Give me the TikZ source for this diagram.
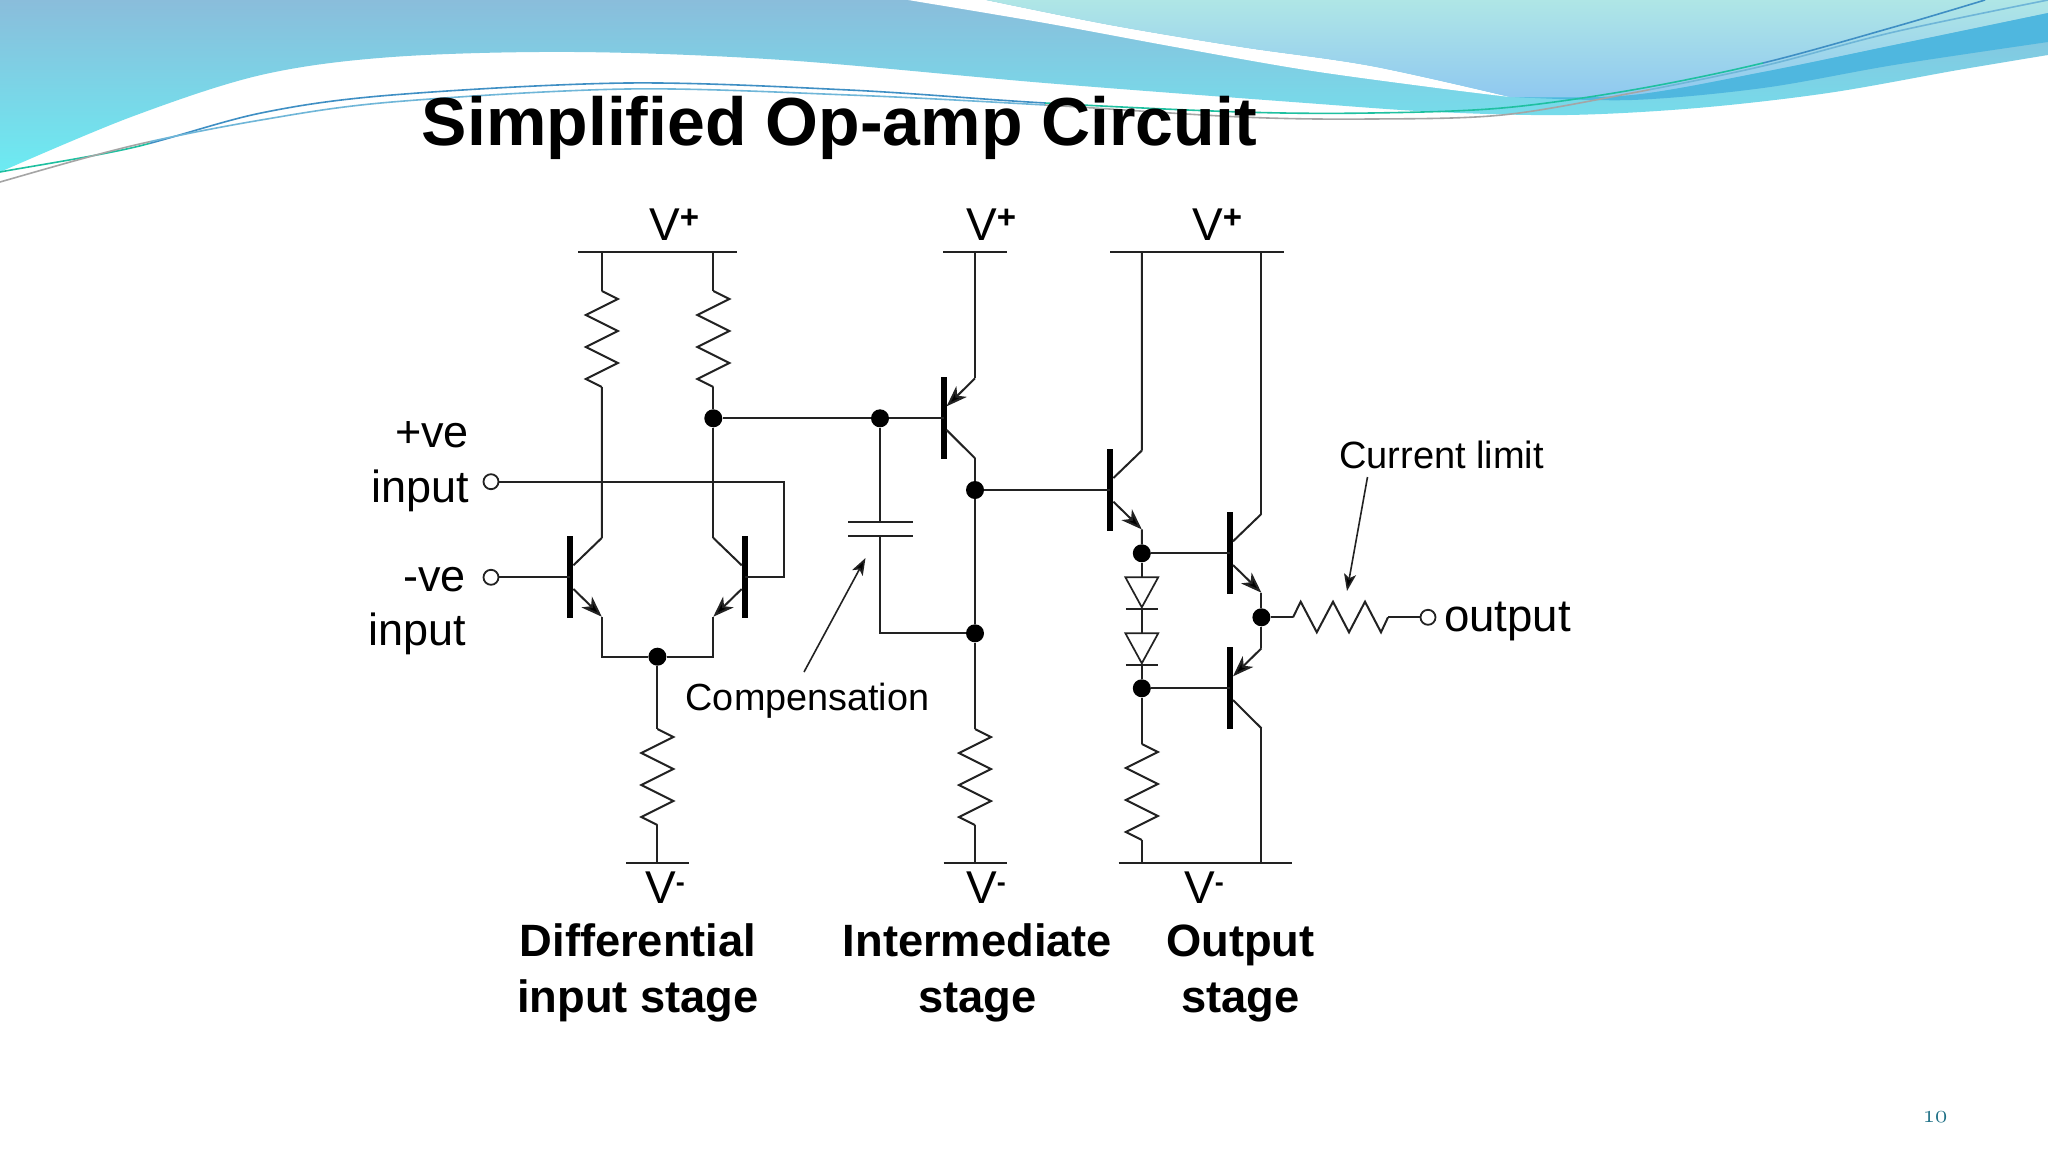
\documentclass[tikz,border=0pt]{standalone}
\usepackage{fontspec}
\setmainfont{Liberation Sans}
\usetikzlibrary{arrows.meta,calc}
\definecolor{wire}{HTML}{222222}
\definecolor{pagenum}{HTML}{1D6F85}
\definecolor{waveTop}{HTML}{8ABDDB}
\definecolor{waveMid}{HTML}{7DD2E6}
\definecolor{waveLow}{HTML}{6CEBF2}
\definecolor{lightTop}{HTML}{AFE6E6}
\definecolor{lightLow}{HTML}{8FC8F0}
\definecolor{bandBlue}{HTML}{4FB7DF}
\definecolor{lineBlue}{HTML}{3F8FC4}
\definecolor{lineTeal}{HTML}{1FC0A0}
\definecolor{lineGrey}{HTML}{A5A5A5}
\definecolor{lineSky}{HTML}{6FB6D8}
\tikzset{
  wire/.style={draw=wire,line width=2pt,line join=miter},
  thin wire/.style={draw=wire,line width=1.7pt},
  bar/.style={draw=black,line width=6pt},
  dot/.style={circle,fill=black,inner sep=0pt,minimum size=18pt},
  port/.style={circle,draw=wire,fill=white,line width=1.8pt,inner sep=0pt,minimum size=15pt},
  lab/.style={inner sep=0pt,anchor=base west,text=black},
  emit/.style={wire,-{Stealth[length=21pt,width=15pt,inset=6pt,fill=black]}},
  note arrow/.style={draw=wire,line width=1.6pt,-{Stealth[length=17pt,width=12pt,inset=4pt,fill=black]}},
  swoosh/.style={line width=1.6pt},
  pics/npn/.style={code={
    \coordinate (-b) at (0,0);
    \coordinate (-c) at (31.4,-39.4);
    \coordinate (-e) at (31.4,39.4);
    \draw[bar] (0,-41) -- (0,41);
    \draw[wire] (-c) -- (3,-12);
    \draw[emit] (3,11.7) -- (-e);
  }},
  pics/pnp/.style={code={
    \coordinate (-b) at (0,0);
    \coordinate (-e) at (31.4,-40);
    \coordinate (-c) at (31.4,40);
    \draw[bar] (0,-41) -- (0,41);
    \draw[wire] (3,11.7) -- (-c);
    \draw[emit] (-e) -- (3,-12);
  }},
  pics/vres/.style={code={
    \coordinate (-a) at (0,0);
    \coordinate (-b) at (0,96);
    \draw[wire] (-a) -- (16,8) -- (-16,24) -- (16,40) -- (-16,56) -- (16,72) -- (-16,88) -- (-b);
  }},
  pics/hres/.style={code={
    \coordinate (-a) at (0,0);
    \coordinate (-b) at (95,0);
    \draw[wire] (-a) -- (7.7,-15.6) -- (23.8,15) -- (40,-15.6) -- (56,15) -- (72,-15.6) -- (88,15) -- (-b);
  }},
  pics/diode/.style={code={
    \coordinate (-a) at (0,0);
    \coordinate (-k) at (0,31.7);
    \draw[thin wire] (-16.4,0) -- (16.4,0) -- (0,30) -- cycle;
    \draw[thin wire] (-16,31.7) -- (16,31.7);
  }},
}
\newcommand{\plusmark}{\raisebox{12pt}{\fontsize{33}{33}\selectfont\bfseries +}}
\newcommand{\minusmark}{\raisebox{12pt}{\fontsize{27}{27}\selectfont\bfseries -}}
\newcommand{\fs}[1]{\fontsize{#1}{#1}\selectfont}
% the two thin header swooshes, each coloured piecewise along x
\newcommand{\swooshA}{plot[smooth,tension=.55] coordinates {(-10,175) (0,172) (131,148) (261,113) (392,95) (627,83) (849,90) (1045,103) (1241,112) (1371,113) (1502,108) (1632,90) (1763,63) (1894,27) (1985,0)}}
\newcommand{\swooshB}{plot[smooth,tension=.55] coordinates {(-10,186) (0,182) (131,146) (261,120) (392,102) (627,89) (849,95) (1045,105) (1241,117) (1371,119) (1502,115) (1632,93) (1763,66) (1894,32) (2048,0)}}
\newcommand{\piece}[3]{\begin{scope}\clip (#1,0) rectangle (#2,200);\draw[swoosh,#3] }
\begin{document}
\begin{tikzpicture}[x=1pt,y=-1pt]
\useasboundingbox (0,0) rectangle (2048,1152);
\fill[white] (0,0) rectangle (2048,1152);

% --- slide header waves ---
\shade[top color=waveTop,middle color=waveMid,bottom color=waveLow]
  plot[smooth,tension=.55] coordinates {(0,172) (131,117) (261,75) (392,57) (575,52) (783,60) (1045,83) (1306,103) (1437,112) (1567,115) (1697,108) (1828,93) (1958,70) (2048,55)}
  -- (2048,0) -- (0,0) -- cycle;
\fill[white]
  plot[smooth,tension=.55] coordinates {(908,0) (1045,23) (1175,47) (1306,70) (1437,88) (1510,97)}
  -- plot[smooth,tension=.55] coordinates {(1510,97) (1371,66) (1241,47) (1110,25) (986,0)}
  -- cycle;
\shade[top color=lightTop,bottom color=lightLow]
  plot[smooth,tension=.55] coordinates {(986,0) (1110,25) (1241,47) (1371,66) (1510,97)}
  -- plot[smooth,tension=.55] coordinates {(1510,97) (1632,95) (1763,72) (1894,45) (2048,13)}
  -- (2048,0) -- cycle;
\fill[bandBlue]
  plot[smooth,tension=.55] coordinates {(1515,97) (1632,95) (1763,72) (1894,45) (2048,13)}
  -- plot[smooth,tension=.55] coordinates {(2048,42) (1894,65) (1763,88) (1632,100) (1515,97)} -- cycle;

% thin swooshes
\piece{0}{150}{lineTeal} \swooshA; \end{scope}
\piece{150}{1045}{lineBlue} \swooshA; \end{scope}
\piece{1045}{1763}{lineTeal} \swooshA; \end{scope}
\piece{1763}{2048}{lineBlue} \swooshA; \end{scope}
\piece{0}{150}{lineGrey} \swooshB; \end{scope}
\piece{150}{1045}{lineSky} \swooshB; \end{scope}
\piece{1045}{1650}{lineGrey} \swooshB; \end{scope}
\piece{1650}{2048}{lineSky} \swooshB; \end{scope}

% title
\node[lab] (title) at (421.7,145) {\fs{68}\bfseries Simplified Op-amp Circuit};

% --- supply rails ---
\coordinate (railA1) at (578,251.8);   \coordinate (railA2) at (737,251.8);
\coordinate (railB1) at (943.3,251.8); \coordinate (railB2) at (1007,251.8);
\coordinate (railC1) at (1110,251.8);  \coordinate (railC2) at (1284,251.8);
\coordinate (railD1) at (626,863.3);   \coordinate (railD2) at (689,863.3);
\coordinate (railE1) at (943.5,863.3); \coordinate (railE2) at (1006.7,863.3);
\coordinate (railF1) at (1118.6,863.3);\coordinate (railF2) at (1291.7,863.3);
\draw[wire] (railA1) -- (railA2);
\draw[wire] (railB1) -- (railB2);
\draw[wire] (railC1) -- (railC2);
\draw[wire] (railD1) -- (railD2);
\draw[wire] (railE1) -- (railE2);
\draw[wire] (railF1) -- (railF2);

% taps on rails
\coordinate (tapA1) at (601.8,251.8);
\coordinate (tapA2) at (713.3,251.8);
\coordinate (tapB) at (975,251.8);
\coordinate (tapC1) at (1141.8,251.8);
\coordinate (tapC2) at (1261.4,251.8);
\coordinate (tapD) at (657.4,863.3);
\coordinate (tapE) at (975,863.3);
\coordinate (tapF1) at (1141.8,863.3);
\coordinate (tapF2) at (1261.4,863.3);

% --- components ---
\pic (r1) at (601.8,291) {vres};
\pic (r2) at (713.3,291) {vres};
\pic (r3) at (657.4,729) {vres};
\pic (r4) at (975,729) {vres};
\pic (r5) at (1141.8,744) {vres};
\pic (r6) at (1293,617.3) {hres};

\pic (t1) at (570.4,577.3) {npn};
\pic[xscale=-1] (t2) at (744.7,577.3) {npn};
\pic (t3) at (943.6,418.3) {pnp};
\pic (t4) at (1110.4,490) {npn};
\pic (t5) at (1230,553.3) {npn};
\pic (t6) at (1230,688.3) {pnp};

\pic (d1) at (1141.8,577.3) {diode};
\pic (d2) at (1141.8,633.3) {diode};

\node[dot] (n1) at (713.3,418.3) {};
\node[dot] (n2) at (880,418.3) {};
\node[dot] (n3) at (657.4,656.7) {};
\node[dot] (n4) at (975,490) {};
\node[dot] (n5) at (975,633.3) {};
\node[dot] (n6) at (1141.8,553.3) {};
\node[dot] (n7) at (1141.8,688.3) {};
\node[dot] (n8) at (1261.4,617.3) {};

\node[port] (inP) at (491,481.7) {};
\node[port] (inN) at (491,577.3) {};
\node[port] (out) at (1428,617.3) {};

% capacitor
\coordinate (capT) at (880,522.3);
\coordinate (capB) at (880,536.3);
\coordinate (capTl) at (848,522.3); \coordinate (capTr) at (913,522.3);
\coordinate (capBl) at (848,536.3); \coordinate (capBr) at (913,536.3);
\draw[thin wire] (capTl) -- (capTr);
\draw[thin wire] (capBl) -- (capBr);

% --- connectors ---
\draw[wire] (tapA1) -- (r1-a);
\draw[wire] (r1-b) -- (t1-c);
\draw[wire] (tapA2) -- (r2-a);
\draw[wire] (r2-b) -- (n1) -- (t2-c);
\draw[wire] (t1-e) |- (n3);
\draw[wire] (t2-e) |- (n3);
\draw[wire] (n3) -- (r3-a);
\draw[wire] (r3-b) -- (tapD);
\draw[wire] (n1) -- (n2) -- (t3-b);
\draw[wire] (n2) -- (capT);
\draw[wire] (capB) |- (n5);
\draw[wire] (inN) -- (t1-b);
\coordinate (cornerP) at (784,481.7);
\coordinate (cornerQ) at (784,577.3);
\draw[wire] (inP) -- (cornerP) -- (cornerQ) -- (t2-b);
\draw[wire] (tapB) -- (t3-e);
\draw[wire] (t3-c) -- (n4) -- (n5) -- (r4-a);
\draw[wire] (r4-b) -- (tapE);
\draw[wire] (n4) -- (t4-b);
\draw[wire] (tapC1) -- (t4-c);
\draw[wire] (t4-e) -- (n6);
\draw[wire] (n6) -- (d1-a);
\draw[wire] (d1-k) -- (d2-a);
\draw[wire] (d2-k) -- (n7);
\draw[wire] (n7) -- (r5-a);
\draw[wire] (r5-b) -- (tapF1);
\draw[wire] (n6) -- (t5-b);
\draw[wire] (n7) -- (t6-b);
\draw[wire] (tapC2) -- (t5-c);
\draw[wire] (t5-e) -- (n8) -- (t6-e);
\draw[wire] (t6-c) -- (tapF2);
\draw[wire] (n8) -- (r6-a);
\draw[wire] (r6-b) -- (out);

% callout arrows
\coordinate (compFrom) at (804,672);
\coordinate (compTo) at (865.5,558);
\draw[note arrow] (compFrom) -- (compTo);
\coordinate (limFrom) at (1367.5,477);
\coordinate (limTo) at (1347,591);
\draw[note arrow] (limFrom) -- (limTo);

% --- labels ---
\node[lab] (vp1) at (649,240) {\fs{46}V\plusmark};
\node[lab] (vp2) at (966,240) {\fs{46}V\plusmark};
\node[lab] (vp3) at (1192,240) {\fs{46}V\plusmark};
\node[lab] (vm1) at (645,903) {\fs{46}V\minusmark};
\node[lab] (vm2) at (966,903) {\fs{46}V\minusmark};
\node[lab] (vm3) at (1184,903) {\fs{46}V\minusmark};

\node[lab] (plusve) at (395,447) {\fs{45}+ve};
\node[lab] (inp1) at (371,502) {\fs{45}input};
\node[lab] (minusve) at (403,591.5) {\fs{45}-ve};
\node[lab] (inp2) at (368,645.5) {\fs{45}input};
\node[lab] (comp) at (685.5,710.5) {\fs{37.8}Compensation};
\node[lab] (lim) at (1339,468.5) {\fs{38}Current limit};
\node[lab] (outl) at (1444,631.5) {\fs{45.6}output};

\node[inner sep=0pt,anchor=base] (st1a) at (638,956.3) {\fs{45.3}\bfseries Differential};
\node[inner sep=0pt,anchor=base] (st1b) at (638,1012.7) {\fs{45.3}\bfseries input stage};
\node[inner sep=0pt,anchor=base] (st2a) at (977.5,956.3) {\fs{45.3}\bfseries Intermediate};
\node[inner sep=0pt,anchor=base] (st2b) at (977.5,1012.7) {\fs{45.3}\bfseries stage};
\node[inner sep=0pt,anchor=base] (st3a) at (1240.5,956.3) {\fs{45.3}\bfseries Output};
\node[inner sep=0pt,anchor=base] (st3b) at (1240.5,1012.7) {\fs{45.3}\bfseries stage};

\node[inner sep=0pt,anchor=base,text=pagenum] (pg) at (1935,1122) {\fontsize{24}{24}\usefont{OML}{cmm}{m}{it}10};
\end{tikzpicture}
\end{document}
